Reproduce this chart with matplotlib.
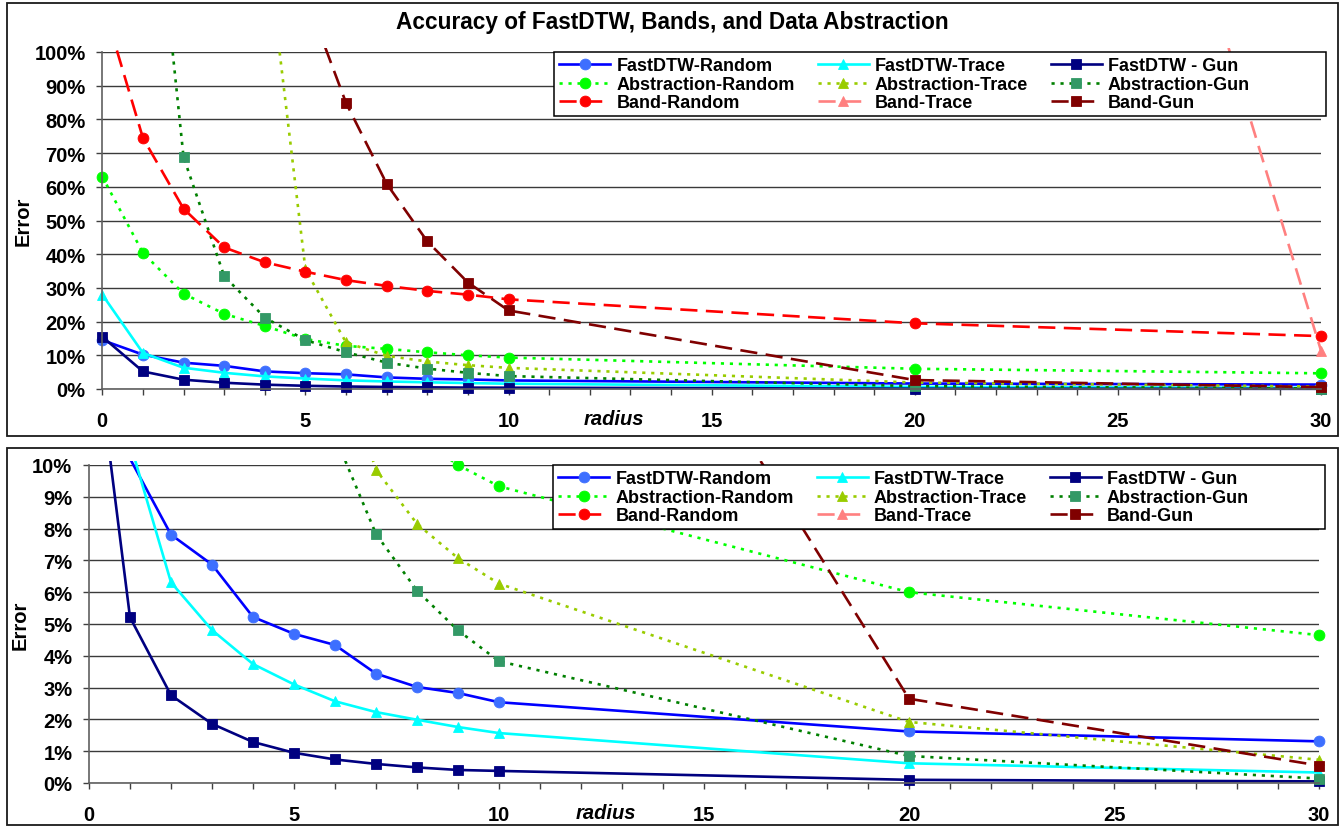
import numpy as np
import matplotlib
matplotlib.use('Agg')
import matplotlib.pyplot as plt
from matplotlib.patches import Rectangle
from matplotlib.ticker import MultipleLocator, PercentFormatter

plt.rcParams['font.family'] = ['Liberation Sans', 'DejaVu Sans']
plt.rcParams['font.weight'] = 'bold'

W, H = 1341, 828
nan = np.nan

#Error (%) for each radius
radius = [0, 1, 2, 3, 4, 5, 6, 7, 8, 9, 10, 20, 30]
fastdtw_random = [14.5, 10.2, 7.81, 6.87, 5.22, 4.69, 4.34, 3.44, 3.02, 2.83, 2.54, 1.62, 1.31]
fastdtw_trace = [28.0, 10.7, 6.31, 4.81, 3.74, 3.10, 2.57, 2.23, 1.99, 1.76, 1.57, 0.62, 0.33]
fastdtw_gun = [15.5, 5.21, 2.76, 1.86, 1.29, 0.95, 0.74, 0.60, 0.49, 0.41, 0.38, 0.10, 0.05]
abstraction_random = [63.0, 40.4, 28.3, 22.3, 18.7, 14.8, 12.8, 11.9, 10.9, 10.0, 9.33, 6.0, 4.65]
abstraction_trace = [nan, nan, nan, nan, 137.0, 35.5, 13.8, 9.85, 8.15, 7.07, 6.27, 1.92, 0.73]
abstraction_gun = [nan, 185.0, 68.8, 33.5, 21.2, 14.5, 10.9, 7.83, 6.05, 4.80, 3.83, 0.85, 0.14]
band_random = [115.0, 74.5, 53.5, 42.0, 37.6, 34.8, 32.3, 30.6, 29.1, 28.0, 26.6, 19.5, 15.7]
band_trace = [nan, nan, nan, nan, nan, nan, nan, nan, nan, nan, nan, 406.0, 11.4]
band_gun = [nan, nan, nan, nan, nan, 117.0, 84.9, 60.9, 43.8, 31.6, 23.3, 2.65, 0.55]

labels = ['FastDTW-Random', 'FastDTW-Trace', 'FastDTW - Gun',
          'Abstraction-Random', 'Abstraction-Trace', 'Abstraction-Gun',
          'Band-Random', 'Band-Trace', 'Band-Gun']
values = [fastdtw_random, fastdtw_trace, fastdtw_gun,
          abstraction_random, abstraction_trace, abstraction_gun,
          band_random, band_trace, band_gun]

line_colors = ['#0000FF', '#00FFFF', '#000080',
               '#00FF00', '#99CC00', '#008000',
               '#FF0000', '#FF8080', '#800000']
marker_colors = ['#3D6FFF', '#00FFFF', '#000080',
                 '#00FF00', '#99CC00', '#339966',
                 '#FF0000', '#FF8080', '#800000']
markers = ['o', '^', 's'] * 3
dotted = (0, (1.2, 2.2))
dashed = (0, (6.5, 3.2))
styles = ['-'] * 3 + [dotted] * 3 + [dashed] * 3

def fx(px):
    return px / W

def fy(py):
    return 1 - py / H

def panel(ax, ymax, ystep, ylab_x, leg_box):
    lines = []
    ax_h = ax.get_position().height * H
    up = 4.0 / ax_h
    for i in range(len(labels)):
        ms = 7.0 if markers[i] == 's' else 7.8
        #Excel hides markers that fall outside the value axis
        shown = [bool(v <= ymax) for v in values[i]]
        l, = ax.plot(radius, values[i], color=line_colors[i], ls=styles[i], lw=1.9,
                     marker=markers[i], ms=ms, mfc=marker_colors[i], mec=marker_colors[i],
                     mew=0.6, markevery=shown, label=labels[i])
        l.set_clip_path(Rectangle((-0.012, -0.05), 1.024, 1.05 + up, transform=ax.transAxes))
        lines.append(l)

    ax.set_xlim(0, 30)
    ax.set_ylim(0, ymax)
    ax.set_xticks(range(0, 31, 5))
    ax.xaxis.set_minor_locator(MultipleLocator(1))
    ax.set_yticks(np.arange(0, ymax + ystep / 2, ystep))
    ax.yaxis.set_major_formatter(PercentFormatter(xmax=100, decimals=0))
    ax.yaxis.grid(True, color='#3a3a3a', lw=1)
    ax.set_axisbelow(True)
    for s in ['top', 'right']:
        ax.spines[s].set_visible(False)
    for s in ['left', 'bottom']:
        ax.spines[s].set_color('#606060')
        ax.spines[s].set_linewidth(1.2)
    ax.tick_params(axis='x', which='both', direction='out', length=4, width=1,
                   color='#404040', pad=12, labelsize=14.5)
    ax.tick_params(axis='y', direction='out', length=4, width=1,
                   color='#404040', pad=8, labelsize=14.5)

    ax.set_ylabel('Error', fontsize=14.5, weight='bold')
    ax.yaxis.set_label_coords(ylab_x, 0.5)
    ax.set_xlabel('radius', fontsize=14.5, style='italic', weight='bold', va='center')
    ax.xaxis.set_label_coords(12.6 / 30, -30.0 / ax_h)

    #legend box (Excel columns are equal width)
    x0, y0, x1, y1 = leg_box
    ax.add_patch(Rectangle((fx(x0), fy(y1)), fx(x1) - fx(x0), fy(y0) - fy(y1),
                           transform=ax.figure.transFigure, fc='white', ec='black',
                           lw=1.1, zorder=4, clip_on=False))
    order = [0, 3, 6, 1, 4, 7, 2, 5, 8]
    ax.legend([lines[k] for k in order], [labels[k] for k in order], ncol=3,
              loc='upper left', bbox_to_anchor=(fx(x0), fy(y0)),
              bbox_transform=ax.figure.transFigure, frameon=False, fontsize=13,
              handlelength=2.82, handletextpad=0.33, columnspacing=1.27,
              labelspacing=0.08, borderpad=0.3, borderaxespad=0, numpoints=1)

fig = plt.figure(figsize=(W / 100, H / 100), dpi=100)

#panel frames
fig.patches.append(Rectangle((fx(7), fy(437)), fx(1338) - fx(7), fy(4) - fy(437),
                             transform=fig.transFigure, fill=False, ec='#1a1a1a', lw=1.3))
fig.patches.append(Rectangle((fx(7), fy(826)), fx(1338) - fx(7), fy(449) - fy(826),
                             transform=fig.transFigure, fill=False, ec='#1a1a1a', lw=1.3))

ax1 = fig.add_axes([fx(102.3), fy(390), fx(1321) - fx(102.3), fy(53) - fy(390)])
panel(ax1, 100, 10, -0.057, (554, 53, 1326, 117))
ax1.set_title('Accuracy of FastDTW, Bands, and Data Abstraction', x=0.468, pad=17,
              fontsize=16.3, weight='bold')

ax2 = fig.add_axes([fx(89), fy(784), fx(1319) - fx(89), fy(466) - fy(784)])
panel(ax2, 10, 1, -0.048, (553, 466, 1325, 530))

fig.savefig('out.png', dpi=100)
